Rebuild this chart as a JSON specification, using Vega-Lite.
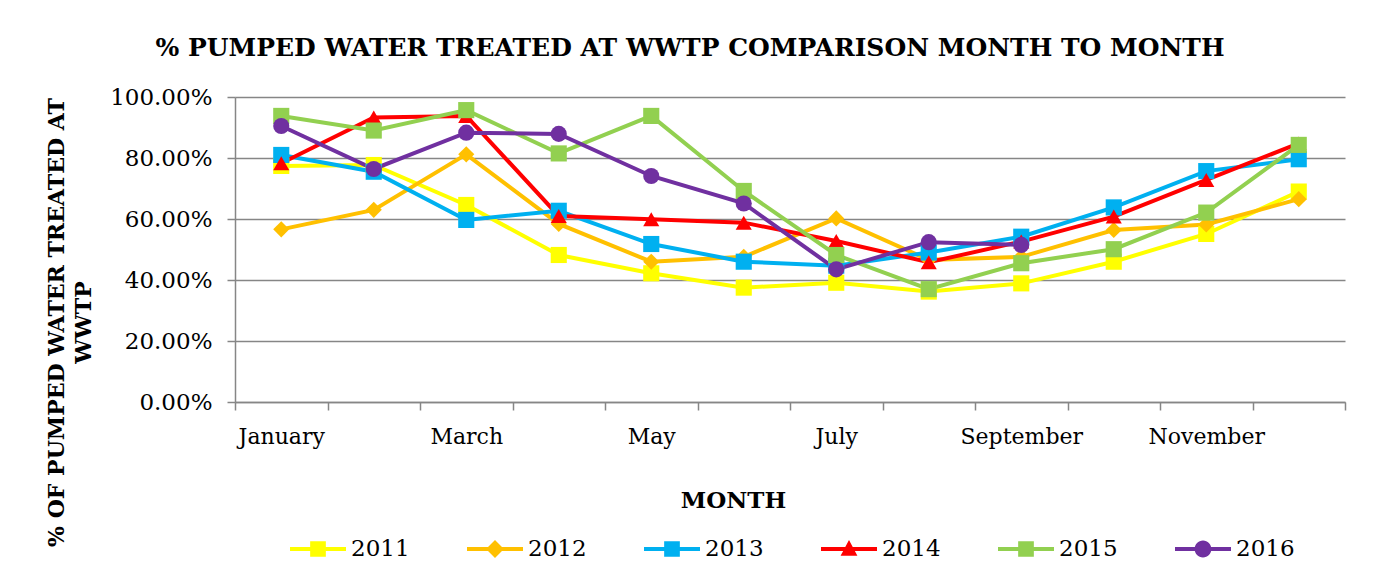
{
  "$schema": "https://vega.github.io/schema/vega-lite/v6.json",
  "width": 1110,
  "height": 305,
  "autosize": {"type": "none"},
  "padding": {"left": 235, "top": 97, "right": 37, "bottom": 181},
  "background": "white",
  "config": {
    "view": {"stroke": null},
    "font": "DejaVu Serif"
  },
  "title": {
    "text": "% PUMPED WATER TREATED AT WWTP COMPARISON MONTH TO MONTH",
    "font": "DejaVu Serif",
    "fontSize": 25,
    "fontWeight": "bold",
    "color": "black",
    "anchor": "middle",
    "frame": "group",
    "dx": -100,
    "offset": 25
  },
  "data": {
    "values": [
      {"Month": "January", "Year": "2011", "Value": 0.774},
      {"Month": "February", "Year": "2011", "Value": 0.777},
      {"Month": "March", "Year": "2011", "Value": 0.646},
      {"Month": "April", "Year": "2011", "Value": 0.482},
      {"Month": "May", "Year": "2011", "Value": 0.422},
      {"Month": "June", "Year": "2011", "Value": 0.375},
      {"Month": "July", "Year": "2011", "Value": 0.391},
      {"Month": "August", "Year": "2011", "Value": 0.362},
      {"Month": "September", "Year": "2011", "Value": 0.389},
      {"Month": "October", "Year": "2011", "Value": 0.46},
      {"Month": "November", "Year": "2011", "Value": 0.551},
      {"Month": "December", "Year": "2011", "Value": 0.69},
      {"Month": "January", "Year": "2012", "Value": 0.566},
      {"Month": "February", "Year": "2012", "Value": 0.63},
      {"Month": "March", "Year": "2012", "Value": 0.812},
      {"Month": "April", "Year": "2012", "Value": 0.584},
      {"Month": "May", "Year": "2012", "Value": 0.46},
      {"Month": "June", "Year": "2012", "Value": 0.476},
      {"Month": "July", "Year": "2012", "Value": 0.602},
      {"Month": "August", "Year": "2012", "Value": 0.466},
      {"Month": "September", "Year": "2012", "Value": 0.476},
      {"Month": "October", "Year": "2012", "Value": 0.564},
      {"Month": "November", "Year": "2012", "Value": 0.582},
      {"Month": "December", "Year": "2012", "Value": 0.665},
      {"Month": "January", "Year": "2013", "Value": 0.81},
      {"Month": "February", "Year": "2013", "Value": 0.755},
      {"Month": "March", "Year": "2013", "Value": 0.597},
      {"Month": "April", "Year": "2013", "Value": 0.627},
      {"Month": "May", "Year": "2013", "Value": 0.518},
      {"Month": "June", "Year": "2013", "Value": 0.46},
      {"Month": "July", "Year": "2013", "Value": 0.447},
      {"Month": "August", "Year": "2013", "Value": 0.49},
      {"Month": "September", "Year": "2013", "Value": 0.542},
      {"Month": "October", "Year": "2013", "Value": 0.638},
      {"Month": "November", "Year": "2013", "Value": 0.757},
      {"Month": "December", "Year": "2013", "Value": 0.796},
      {"Month": "January", "Year": "2014", "Value": 0.783},
      {"Month": "February", "Year": "2014", "Value": 0.933},
      {"Month": "March", "Year": "2014", "Value": 0.938},
      {"Month": "April", "Year": "2014", "Value": 0.61},
      {"Month": "May", "Year": "2014", "Value": 0.599},
      {"Month": "June", "Year": "2014", "Value": 0.588},
      {"Month": "July", "Year": "2014", "Value": 0.528},
      {"Month": "August", "Year": "2014", "Value": 0.458},
      {"Month": "September", "Year": "2014", "Value": 0.526},
      {"Month": "October", "Year": "2014", "Value": 0.608},
      {"Month": "November", "Year": "2014", "Value": 0.728},
      {"Month": "December", "Year": "2014", "Value": 0.848},
      {"Month": "January", "Year": "2015", "Value": 0.938},
      {"Month": "February", "Year": "2015", "Value": 0.89},
      {"Month": "March", "Year": "2015", "Value": 0.957},
      {"Month": "April", "Year": "2015", "Value": 0.815},
      {"Month": "May", "Year": "2015", "Value": 0.938},
      {"Month": "June", "Year": "2015", "Value": 0.692},
      {"Month": "July", "Year": "2015", "Value": 0.482},
      {"Month": "August", "Year": "2015", "Value": 0.37},
      {"Month": "September", "Year": "2015", "Value": 0.455},
      {"Month": "October", "Year": "2015", "Value": 0.501},
      {"Month": "November", "Year": "2015", "Value": 0.621},
      {"Month": "December", "Year": "2015", "Value": 0.843},
      {"Month": "January", "Year": "2016", "Value": 0.905},
      {"Month": "February", "Year": "2016", "Value": 0.764},
      {"Month": "March", "Year": "2016", "Value": 0.883},
      {"Month": "April", "Year": "2016", "Value": 0.879},
      {"Month": "May", "Year": "2016", "Value": 0.741},
      {"Month": "June", "Year": "2016", "Value": 0.651},
      {"Month": "July", "Year": "2016", "Value": 0.435},
      {"Month": "August", "Year": "2016", "Value": 0.524},
      {"Month": "September", "Year": "2016", "Value": 0.515}
    ]
  },
  "encoding": {
    "x": {
      "field": "Month",
      "type": "ordinal",
      "sort": ["January", "February", "March", "April", "May", "June", "July", "August", "September", "October", "November", "December"],
      "scale": {"type": "band", "paddingInner": 0, "paddingOuter": 0},
      "axis": {
        "title": "MONTH",
        "tickBand": "extent",
        "labelExpr": "indexof(['January','March','May','July','September','November'], datum.value) >= 0 ? datum.value : ''",
        "grid": false,
        "domainColor": "#868686",
        "domainWidth": 1.5,
        "tickColor": "#868686",
        "tickWidth": 1.5,
        "tickSize": 8,
        "labelFont": "DejaVu Serif",
        "labelFontSize": 22,
        "labelColor": "black",
        "labelPadding": 16,
        "labelAngle": 0,
        "titleFont": "DejaVu Serif",
        "titleFontSize": 23,
        "titleFontWeight": "bold",
        "titleColor": "black",
        "titleX": 498,
        "titleY": 105,
        "titleBaseline": "alphabetic",
        "titleAlign": "center"
      }
    },
    "y": {
      "field": "Value",
      "type": "quantitative",
      "scale": {"domain": [0, 1], "nice": false},
      "axis": {
        "format": ".2%",
        "values": [0, 0.2, 0.4, 0.6, 0.8, 1],
        "title": ["% OF PUMPED WATER TREATED AT", "WWTP"],
        "grid": true,
        "gridColor": "#868686",
        "gridWidth": 1.5,
        "domainColor": "#868686",
        "domainWidth": 1.5,
        "tickColor": "#868686",
        "tickWidth": 1.5,
        "tickSize": 8,
        "labelFont": "DejaVu Serif",
        "labelFontSize": 23,
        "labelColor": "black",
        "labelPadding": 15,
        "titleFont": "DejaVu Serif",
        "titleFontSize": 22,
        "titleFontWeight": "bold",
        "titleColor": "black",
        "titleAngle": 270,
        "titleX": -189,
        "titleY": 225,
        "titleAlign": "center",
        "titleBaseline": "top",
        "titleLineHeight": 27
      }
    }
  },
  "layer": [
    {
      "mark": {"type": "line", "strokeWidth": 4},
      "encoding": {
        "color": {
          "field": "Year",
          "type": "nominal",
          "scale": {
            "domain": ["2011", "2012", "2013", "2014", "2015", "2016"],
            "range": ["#FFFF00", "#FFC000", "#00B0F0", "#FF0000", "#92D050", "#7030A0"]
          },
          "legend": null
        }
      }
    },
    {
      "mark": {"type": "point", "filled": true, "size": 260, "opacity": 1},
      "encoding": {
        "color": {
          "field": "Year",
          "type": "nominal",
          "scale": {
            "domain": ["2011", "2012", "2013", "2014", "2015", "2016"],
            "range": ["#FFFF00", "#FFC000", "#00B0F0", "#FF0000", "#92D050", "#7030A0"]
          },
          "legend": null
        },
        "shape": {
          "field": "Year",
          "type": "nominal",
          "scale": {
            "domain": ["2011", "2012", "2013", "2014", "2015", "2016"],
            "range": ["square", "diamond", "square", "triangle-up", "square", "circle"]
          },
          "legend": null
        }
      }
    },
    {
      "mark": {"type": "point", "filled": true, "opacity": 0},
      "encoding": {
        "color": {
          "field": "Year",
          "type": "nominal",
          "scale": {
            "domain": ["2011", "2012", "2013", "2014", "2015", "2016"],
            "range": ["#FFFF00", "#FFC000", "#00B0F0", "#FF0000", "#92D050", "#7030A0"]
          },
          "legend": {
            "orient": "none",
            "legendX": 55,
            "legendY": 424,
            "direction": "horizontal",
            "columns": 6,
            "title": null,
            "padding": 0,
            "symbolSize": 3136,
            "symbolOpacity": 1,
            "symbolStrokeWidth": 0,
            "labelFont": "DejaVu Serif",
            "labelFontSize": 23,
            "labelColor": "black",
            "labelOffset": 5,
            "columnPadding": 57
          }
        },
        "shape": {
          "field": "Year",
          "type": "nominal",
          "scale": {
            "domain": ["2011", "2012", "2013", "2014", "2015", "2016"],
            "range": [
              "M-1,-0.07H1V0.07H-1Z M-0.28,-0.28H0.28V0.28H-0.28Z",
              "M-1,-0.07H1V0.07H-1Z M0,-0.32L0.32,0L0,0.32L-0.32,0Z",
              "M-1,-0.07H1V0.07H-1Z M-0.28,-0.28H0.28V0.28H-0.28Z",
              "M-1,-0.07H1V0.07H-1Z M0,-0.32L0.3,0.24L-0.3,0.24Z",
              "M-1,-0.07H1V0.07H-1Z M-0.28,-0.28H0.28V0.28H-0.28Z",
              "M-1,-0.07H1V0.07H-1Z M-0.3,0A0.3,0.3 0 1,1 0.3,0A0.3,0.3 0 1,1 -0.3,0Z"
            ]
          },
          "legend": {
            "orient": "none",
            "legendX": 55,
            "legendY": 424,
            "direction": "horizontal",
            "columns": 6,
            "title": null,
            "padding": 0,
            "symbolSize": 3136,
            "symbolOpacity": 1,
            "symbolStrokeWidth": 0,
            "labelFont": "DejaVu Serif",
            "labelFontSize": 23,
            "labelColor": "black",
            "labelOffset": 5,
            "columnPadding": 57
          }
        }
      }
    }
  ],
  "resolve": {"scale": {"shape": "independent", "color": "independent"}}
}
